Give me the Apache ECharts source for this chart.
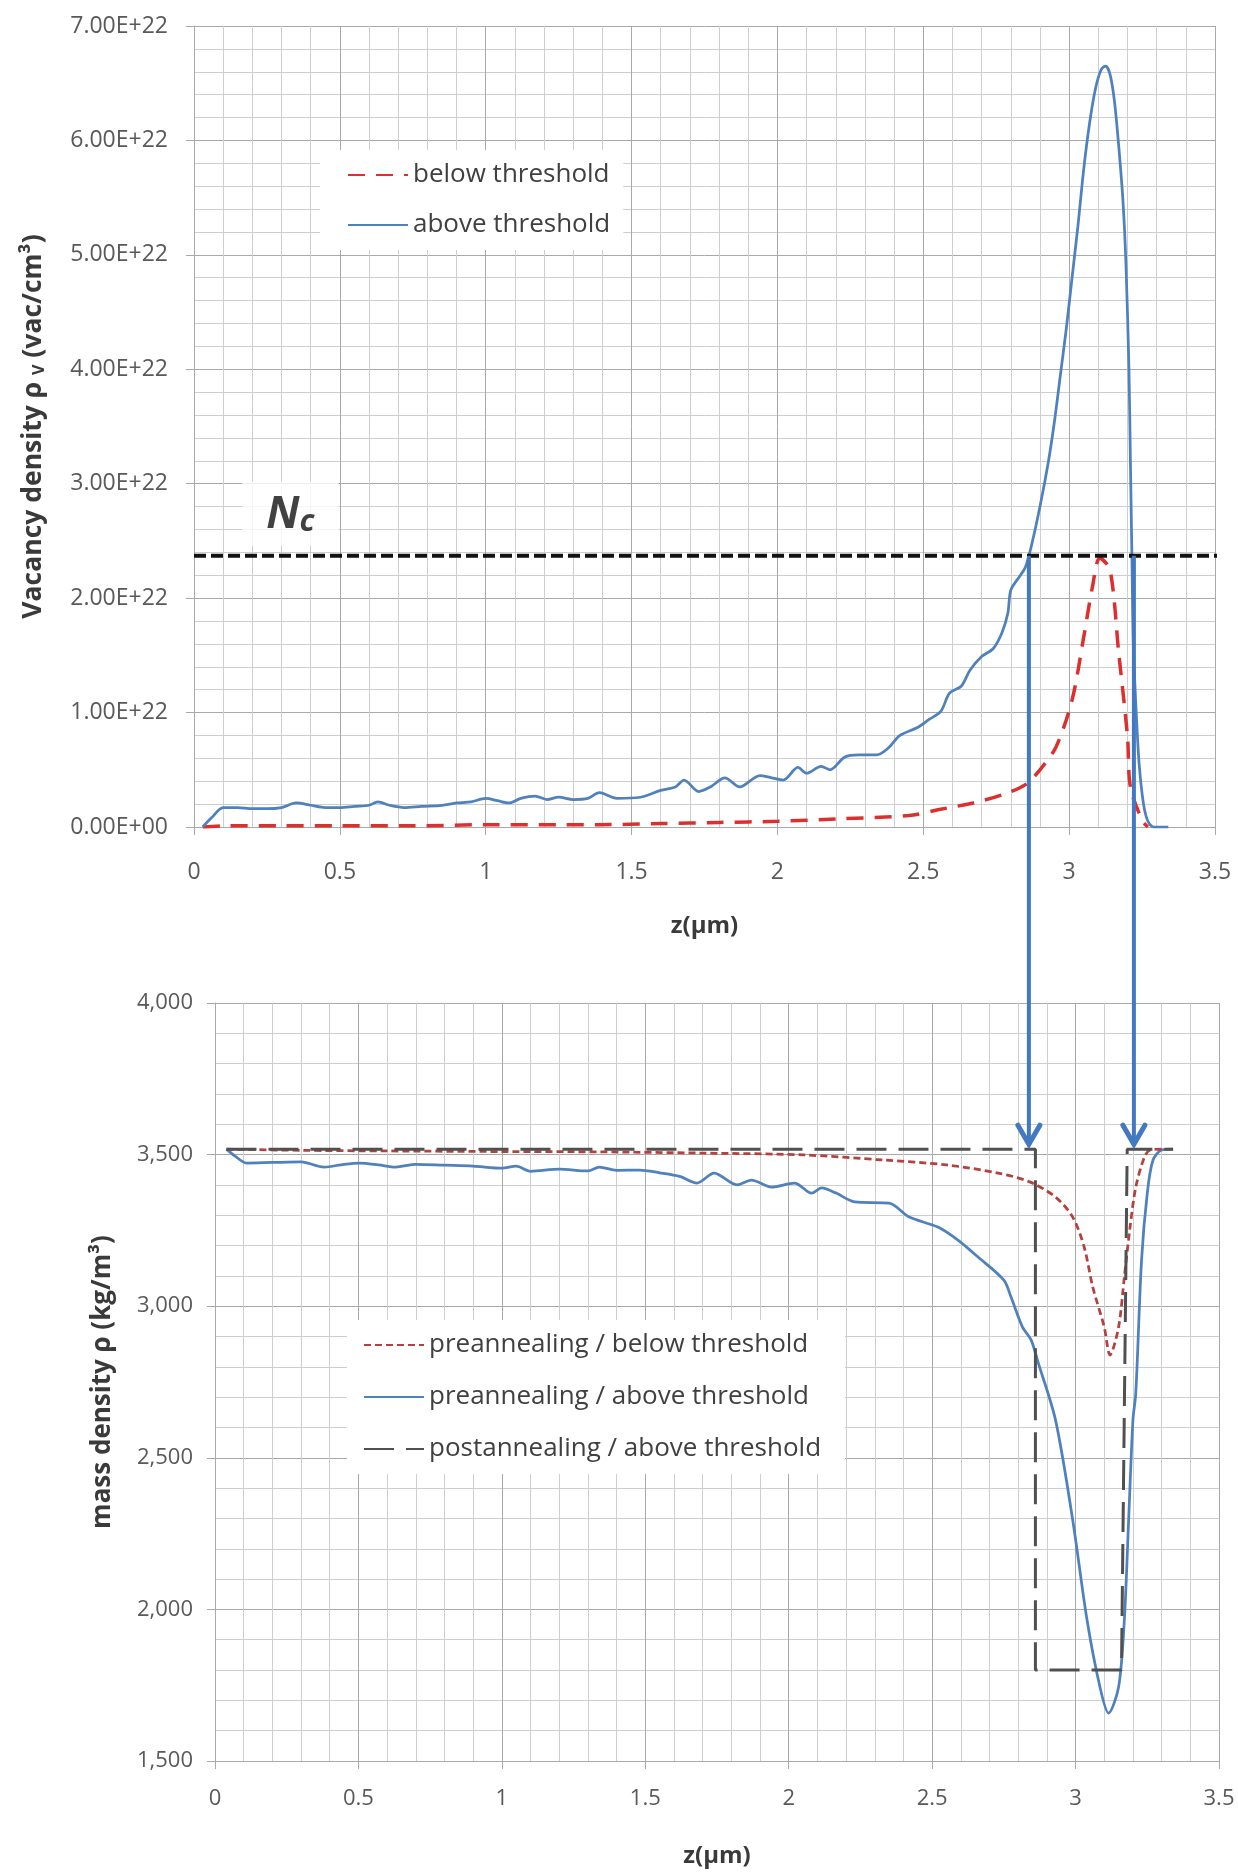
<!DOCTYPE html>
<html>
<head>
<meta charset="utf-8">
<title>Vacancy density and mass density profiles</title>
<script src="https://cdn.jsdelivr.net/npm/echarts@6/dist/echarts.min.js"></script>
<style>
  html, body { margin: 0; padding: 0; background: #ffffff; }
  #chart { width: 1238px; height: 1873px; }
</style>
</head>
<body>
<div id="chart"></div>
<script>
// ---------- Upper panel: vacancy density (units of 1e22 vac/cm^3) vs depth z (µm) ----------
const zVacBelow = [0.03, 0.10, 0.30, 0.50, 0.75, 1.00, 1.25, 1.39, 1.60, 1.80, 2.00, 2.20, 2.45, 2.55,
  2.67, 2.77, 2.85, 2.90, 2.955, 3.01, 3.05, 3.08, 3.105, 3.14, 3.17, 3.20, 3.21, 3.25, 3.27];
const vacBelow = [0.00, 0.01, 0.01, 0.01, 0.01, 0.02, 0.02, 0.02, 0.03, 0.04, 0.05, 0.07, 0.10, 0.15,
  0.21, 0.28, 0.37, 0.50, 0.70, 1.11, 1.66, 2.10, 2.35, 2.25, 1.52, 0.79, 0.35, 0.06, 0.00];

const zVacAbove = [0.03, 0.06, 0.10, 0.15, 0.20, 0.25, 0.30, 0.35, 0.40, 0.45, 0.50, 0.55, 0.60, 0.63,
  0.67, 0.72, 0.78, 0.85, 0.90, 0.95, 1.00, 1.04, 1.08, 1.12, 1.17, 1.21, 1.25, 1.30, 1.35, 1.39,
  1.45, 1.53, 1.60, 1.65, 1.68, 1.73, 1.77, 1.82, 1.87, 1.94, 1.98, 2.02, 2.07, 2.10, 2.15, 2.18,
  2.23, 2.28, 2.34, 2.38, 2.42, 2.48, 2.52, 2.56, 2.59, 2.63, 2.66, 2.70, 2.74, 2.77, 2.79, 2.80,
  2.83, 2.85, 2.87, 2.90, 2.93, 2.95, 2.97, 2.99, 3.01, 3.03, 3.05, 3.07, 3.09, 3.11, 3.125, 3.14,
  3.155, 3.17, 3.185, 3.195, 3.205, 3.21, 3.215, 3.22, 3.23, 3.24, 3.255, 3.27, 3.29, 3.34];
const vacAbove = [0.00, 0.08, 0.17, 0.17, 0.16, 0.16, 0.17, 0.21, 0.19, 0.17, 0.17, 0.18, 0.19, 0.22,
  0.19, 0.17, 0.18, 0.19, 0.21, 0.22, 0.25, 0.23, 0.21, 0.25, 0.27, 0.24, 0.26, 0.24, 0.25, 0.30,
  0.25, 0.26, 0.32, 0.35, 0.41, 0.31, 0.35, 0.43, 0.35, 0.45, 0.43, 0.41, 0.52, 0.47, 0.53, 0.50,
  0.61, 0.63, 0.63, 0.69, 0.80, 0.87, 0.94, 1.01, 1.17, 1.23, 1.37, 1.49, 1.56, 1.70, 1.87, 2.07,
  2.19, 2.27, 2.45, 2.80, 3.21, 3.55, 3.95, 4.35, 4.80, 5.25, 5.75, 6.15, 6.45, 6.62, 6.65, 6.58,
  6.35, 5.95, 5.45, 4.90, 4.00, 3.20, 2.40, 1.60, 1.00, 0.55, 0.20, 0.05, 0.00, 0.00];

// Critical vacancy density N_c and the span of its threshold line
const NC = 2.37;
const ncZ = [0, 3.53];
// Position of the "Nc" caption (z, density)
const ncCaption = [0.33, 2.74];

// Depths where the above-threshold profile crosses N_c (arrow positions)
const ARROW_Z = [2.862, 3.222];

// ---------- Lower panel: mass density (kg/m^3) vs depth z (µm) ----------
const zRhoBelow = [0.04, 0.30, 0.60, 1.00, 1.34, 1.70, 2.05, 2.33, 2.55, 2.73, 2.84, 2.93, 2.99, 3.03,
  3.06, 3.10, 3.12, 3.15, 3.17, 3.19, 3.21, 3.24, 3.26, 3.30];
const rhoBelow = [3518, 3514, 3512, 3510, 3509, 3505, 3499, 3482, 3466, 3439, 3410, 3360, 3294, 3195,
  3063, 2931, 2839, 2931, 3096, 3261, 3393, 3492, 3515, 3518];

const zRhoAbove = [0.04, 0.07, 0.11, 0.20, 0.30, 0.38, 0.45, 0.505, 0.57, 0.63, 0.70, 0.80, 0.90, 1.00,
  1.05, 1.10, 1.20, 1.30, 1.34, 1.40, 1.48, 1.55, 1.62, 1.68, 1.74, 1.82, 1.87, 1.94, 2.02, 2.08,
  2.115, 2.165, 2.23, 2.35, 2.42, 2.52, 2.59, 2.66, 2.75, 2.775, 2.815, 2.845, 2.87, 2.93, 2.99,
  3.04, 3.085, 3.115, 3.15, 3.17, 3.185, 3.20, 3.21, 3.23, 3.25, 3.27, 3.30, 3.34];
const rhoAbove = [3518, 3495, 3472, 3474, 3476, 3459, 3468, 3472, 3466, 3459, 3468, 3465, 3462, 3455,
  3462, 3445, 3452, 3446, 3459, 3448, 3449, 3440, 3428, 3406, 3439, 3400, 3416, 3393, 3406, 3373,
  3390, 3373, 3344, 3340, 3294, 3261, 3218, 3162, 3086, 3030, 2931, 2889, 2813, 2625, 2295,
  1965, 1744, 1658, 1744, 1965, 2295, 2625, 2714, 3152, 3373, 3482, 3515, 3518];

const zRhoPost = [0.04, 2.86, 2.86, 3.16, 3.18, 3.34];
const rhoPost = [3518, 3518, 1800, 1800, 3518, 3518];

// Bulk density reached by the arrows
const RHO_BULK = 3518;

// ---------- Tick labels ----------
const zTickLabels = ['0', '0.5', '1', '1.5', '2', '2.5', '3', '3.5'];
const vacTickLabels = ['0.00E+00', '1.00E+22', '2.00E+22', '3.00E+22', '4.00E+22', '5.00E+22', '6.00E+22', '7.00E+22'];
const rhoTickLabels = ['1,500', '2,000', '2,500', '3,000', '3,500', '4,000'];

// ---------- Styling ----------
const FONT = '"Open Sans", "DejaVu Sans", sans-serif';
const GRID_MAJOR = '#a9a9a9';
const GRID_MINOR = '#cecece';
const TICK_COLOR = '#595959';
const NAME_COLOR = '#3a3a3a';
const BLUE = '#4f81bd';
const RED_TOP = '#de2f2f';
const RED_LOW = '#b5413f';
const GREY_POST = '#505050';
const ARROW_COLOR = '#4379c0';

const pairs = (xs, ys) => xs.map((x, i) => [x, ys[i]]);

function xAxisFor(gridIndex, labelSize, labelMargin, nameGap) {
  return {
    gridIndex, type: 'value', min: 0, max: 3.5, interval: 0.5,
    name: 'z(μm)', nameLocation: 'middle', nameGap,
    nameMoveOverlap: false,
    nameTextStyle: { fontFamily: FONT, fontSize: 24, fontWeight: 'bold', color: NAME_COLOR },
    axisLine: { show: true, onZero: false, lineStyle: { color: GRID_MAJOR, width: 1 } },
    axisTick: { show: true, inside: false, length: 8, lineStyle: { color: GRID_MAJOR } },
    axisLabel: {
      margin: labelMargin, fontFamily: FONT, fontSize: labelSize, color: TICK_COLOR,
      formatter: v => zTickLabels[Math.round(v / 0.5)]
    },
    splitLine: { show: true, lineStyle: { color: GRID_MAJOR, width: 1 } },
    minorTick: { show: false, splitNumber: 5 },
    minorSplitLine: { show: true, lineStyle: { color: GRID_MINOR, width: 1 } }
  };
}

// Legend keys show only the line sample, no marker
const legendBase = {
  orient: 'vertical', selectedMode: false,
  backgroundColor: '#ffffff',
  itemWidth: 60, itemHeight: 14,
  itemStyle: { opacity: 0, borderWidth: 0 },
  textStyle: { fontFamily: FONT, fontSize: 26, color: '#404040', lineHeight: 30 }
};

const option = {
  animation: false,
  backgroundColor: '#ffffff',
  grid: [
    { left: 194, top: 26, width: 1021, height: 801, containLabel: false, outerBoundsMode: 'none' },
    { left: 215, top: 1003, width: 1004, height: 758, containLabel: false, outerBoundsMode: 'none' }
  ],
  xAxis: [
    xAxisFor(0, 23, 34, 87),
    xAxisFor(1, 22, 27, 83)
  ],
  yAxis: [
    {
      gridIndex: 0, type: 'value', min: 0, max: 7, interval: 1,
      name: 'Vacancy density ρ {s|V} (vac/cm³)', nameLocation: 'middle', nameGap: 147,
      nameMoveOverlap: false,
      nameTextStyle: {
        fontFamily: FONT, fontSize: 26.5, fontWeight: 'bold', color: NAME_COLOR,
        rich: { s: { fontFamily: FONT, fontSize: 16, fontWeight: 'bold', color: NAME_COLOR, verticalAlign: 'bottom', lineHeight: 22 } }
      },
      axisLine: { show: true, lineStyle: { color: GRID_MAJOR } },
      axisTick: { show: true, inside: false, length: 8, lineStyle: { color: GRID_MAJOR } },
      axisLabel: {
        margin: 26, fontFamily: FONT, fontSize: 23, color: TICK_COLOR,
        formatter: v => vacTickLabels[Math.round(v)]
      },
      splitLine: { show: true, lineStyle: { color: GRID_MAJOR } },
      minorTick: { show: false, splitNumber: 5 },
      minorSplitLine: { show: true, lineStyle: { color: GRID_MINOR } }
    },
    {
      gridIndex: 1, type: 'value', min: 1500, max: 4000, interval: 500,
      name: 'mass density ρ (kg/m³)', nameLocation: 'middle', nameGap: 99,
      nameMoveOverlap: false,
      nameTextStyle: { fontFamily: FONT, fontSize: 26, fontWeight: 'bold', color: NAME_COLOR },
      axisLine: { show: true, lineStyle: { color: GRID_MAJOR } },
      axisTick: { show: true, inside: false, length: 8, lineStyle: { color: GRID_MAJOR } },
      axisLabel: {
        margin: 22, fontFamily: FONT, fontSize: 22, color: TICK_COLOR,
        formatter: v => rhoTickLabels[Math.round((v - 1500) / 500)]
      },
      splitLine: { show: true, lineStyle: { color: GRID_MAJOR } },
      minorTick: { show: false, splitNumber: 5 },
      minorSplitLine: { show: true, lineStyle: { color: GRID_MINOR } }
    }
  ],
  legend: [
    Object.assign({}, legendBase, {
      left: 320, top: 150,
      data: ['below threshold', 'above threshold'],
      padding: [10, 13, 10, 27], itemGap: 20
    }),
    Object.assign({}, legendBase, {
      left: 347, top: 1320,
      data: ['preannealing / below threshold', 'preannealing / above threshold', 'postannealing / above threshold'],
      padding: [10, 24, 10, 16], itemGap: 22
    })
  ],
  series: [
    {
      name: 'below threshold', type: 'line', xAxisIndex: 0, yAxisIndex: 0,
      data: pairs(zVacBelow, vacBelow), symbol: 'none', smooth: 0.3,
      lineStyle: { color: RED_TOP, width: 3.5, type: [17, 11] }, itemStyle: { color: RED_TOP },
      z: 3, silent: true
    },
    {
      name: 'above threshold', type: 'line', xAxisIndex: 0, yAxisIndex: 0,
      data: pairs(zVacAbove, vacAbove), symbol: 'none', smooth: 0.3,
      lineStyle: { color: BLUE, width: 2.75 }, itemStyle: { color: BLUE },
      z: 4, silent: true
    },
    {
      name: 'Nc', type: 'line', xAxisIndex: 0, yAxisIndex: 0,
      data: ncZ.map(z => [z, NC]), symbol: 'none', clip: false,
      lineStyle: { color: '#111111', width: 4, type: [12, 5] },
      z: 5, silent: true
    },
    {
      name: 'Nc caption', type: 'scatter', xAxisIndex: 0, yAxisIndex: 0,
      data: [ncCaption], symbol: 'circle', symbolSize: 0, silent: true, z: 6,
      label: {
        show: true, position: 'inside', formatter: '{n|N}{c|c}',
        backgroundColor: '#ffffff', padding: [6, 24, 8, 24],
        rich: {
          n: { fontFamily: FONT, fontSize: 44, fontWeight: 'bold', fontStyle: 'italic', color: '#111111', lineHeight: 50, verticalAlign: 'bottom' },
          c: { fontFamily: FONT, fontSize: 31, fontWeight: 'bold', fontStyle: 'italic', color: '#111111', lineHeight: 28, verticalAlign: 'bottom' }
        }
      }
    },
    {
      name: 'preannealing / below threshold', type: 'line', xAxisIndex: 1, yAxisIndex: 1,
      data: pairs(zRhoBelow, rhoBelow), symbol: 'none', smooth: 0.3,
      lineStyle: { color: RED_LOW, width: 2.75, type: [7, 4] }, itemStyle: { color: RED_LOW },
      z: 4, silent: true
    },
    {
      name: 'preannealing / above threshold', type: 'line', xAxisIndex: 1, yAxisIndex: 1,
      data: pairs(zRhoAbove, rhoAbove), symbol: 'none', smooth: 0.3,
      lineStyle: { color: BLUE, width: 2.75 }, itemStyle: { color: BLUE },
      z: 3, silent: true
    },
    {
      name: 'postannealing / above threshold', type: 'line', xAxisIndex: 1, yAxisIndex: 1,
      data: pairs(zRhoPost, rhoPost), symbol: 'none',
      lineStyle: { color: GREY_POST, width: 3, type: [30, 12] }, itemStyle: { color: GREY_POST },
      z: 5, silent: true
    }
  ]
};

const chart = echarts.init(document.getElementById('chart'), null, { renderer: 'canvas' });
chart.setOption(option);

// Arrows linking each N_c crossing in the upper panel to the density profile below
const arrows = [];
ARROW_Z.forEach(z => {
  const start = chart.convertToPixel({ xAxisIndex: 0, yAxisIndex: 0 }, [z, NC]);
  const bulk = chart.convertToPixel({ xAxisIndex: 1, yAxisIndex: 1 }, [z, RHO_BULK]);
  const x = start[0];
  const tipY = bulk[1] - 5;
  arrows.push({
    type: 'line', z: 100, silent: true,
    shape: { x1: x, y1: start[1], x2: x, y2: tipY - 2 },
    style: { stroke: ARROW_COLOR, lineWidth: 4 }
  });
  arrows.push({
    type: 'polyline', z: 100, silent: true,
    shape: { points: [[x - 11, tipY - 19], [x, tipY], [x + 11, tipY - 19]] },
    style: { stroke: ARROW_COLOR, lineWidth: 5, fill: null, lineJoin: 'miter', lineCap: 'round' }
  });
});
chart.setOption({ graphic: arrows });
</script>
</body>
</html>
